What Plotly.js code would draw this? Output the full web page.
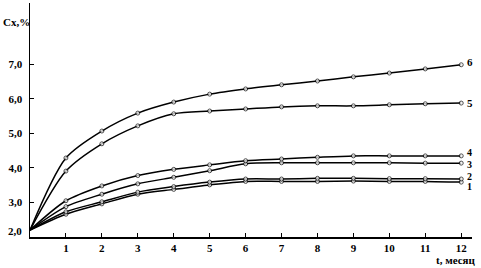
<!DOCTYPE html>
<html><head><meta charset="utf-8">
<script src="https://cdn.plot.ly/plotly-3.0.1.min.js"></script>
<style>html,body{margin:0;padding:0;background:#fff}#chart{width:481px;height:268px}</style>
</head><body><div id="chart"></div>
<script>
const months = [0,1,2,3,4,5,6,7,8,9,10,11,12];
const series1 = [2.2,2.66,2.96,3.24,3.38,3.51,3.61,3.61,3.61,3.62,3.61,3.61,3.59];
const series2 = [2.2,2.73,3.02,3.30,3.46,3.59,3.68,3.68,3.70,3.70,3.69,3.69,3.68];
const series3 = [2.2,2.88,3.24,3.54,3.73,3.92,4.12,4.15,4.15,4.15,4.15,4.14,4.14];
const series4 = [2.2,3.05,3.48,3.78,3.96,4.09,4.21,4.26,4.31,4.35,4.35,4.35,4.35];
const series5 = [2.2,3.91,4.70,5.22,5.57,5.65,5.71,5.77,5.80,5.80,5.83,5.86,5.88];
const series6 = [2.2,4.29,5.07,5.59,5.91,6.14,6.29,6.41,6.52,6.64,6.75,6.87,6.99];
const seriesNames = ['1','2','3','4','5','6'];
const xTickVals = [1,2,3,4,5,6,7,8,9,10,11,12];
const yTickVals = [3,4,5,6,7];
const yTickText = ['3,0','4,0','5,0','6,0','7,0'];

const all = [series1,series2,series3,series4,series5,series6];
const fam = '"Liberation Serif", "Times New Roman", serif';
const font = {family:fam, size:11, color:'#000', weight:'bold'};
const smallFont = {family:fam, size:10, color:'#000', weight:'bold'};
const sizes = months.map(m => m === 0 ? 0 : 4);
const traces = all.map((s,i) => ({
  x: months, y: s, type:'scatter', mode:'lines+markers', name: seriesNames[i],
  line:{color:'#000', width:1.5, shape:'spline', smoothing:0.8},
  marker:{symbol:'circle', size:sizes, color:'#fff', line:{color:'#000', width:1}},
  showlegend:false, hoverinfo:'skip'
}));
const labelShift = [-4, 3, -1, 3, 0, 3];
const annotations = all.map((s,i) => ({
  x: 12, y: s[12], xref:'x', yref:'y', text: seriesNames[i], showarrow:false,
  xanchor:'left', yanchor:'middle', xshift: 4, yshift: labelShift[i], font: i < 4 ? smallFont : font
}));
annotations.push({x:0, y:2, xref:'x', yref:'y', text:'2,0', showarrow:false, xanchor:'right', yanchor:'middle', xshift:-6, yshift:6, font});
annotations.push({x:0, y:1, xref:'paper', yref:'paper', text:'Cx,%', showarrow:false, xanchor:'left', yanchor:'middle', xshift:-29, yshift:-19, font});
annotations.push({x:1, y:0, xref:'paper', yref:'paper', text:'t, месяц', showarrow:false, xanchor:'right', yanchor:'top', xshift:6, yshift:-15, font});
const layout = {
  width:481, height:268,
  margin:{l:30, r:9, t:3, b:31},
  paper_bgcolor:'#fff', plot_bgcolor:'#fff',
  font,
  xaxis:{range:[0,12.3], tickvals:xTickVals, ticks:'inside', ticklen:4, tickwidth:1, tickcolor:'#000',
    showline:true, linecolor:'#000', linewidth:1.5, showgrid:false, zeroline:false, tickfont:font, fixedrange:true},
  yaxis:{range:[2,8.78], tickvals:yTickVals, ticktext:yTickText, ticks:'inside', ticklen:4, tickwidth:1, tickcolor:'#000',
    showline:true, linecolor:'#000', linewidth:1.5, showgrid:false, zeroline:false, tickfont:font, ticklabelstandoff:4, fixedrange:true},
  annotations
};
Plotly.newPlot('chart', traces, layout, {staticPlot:true});
</script></body></html>
